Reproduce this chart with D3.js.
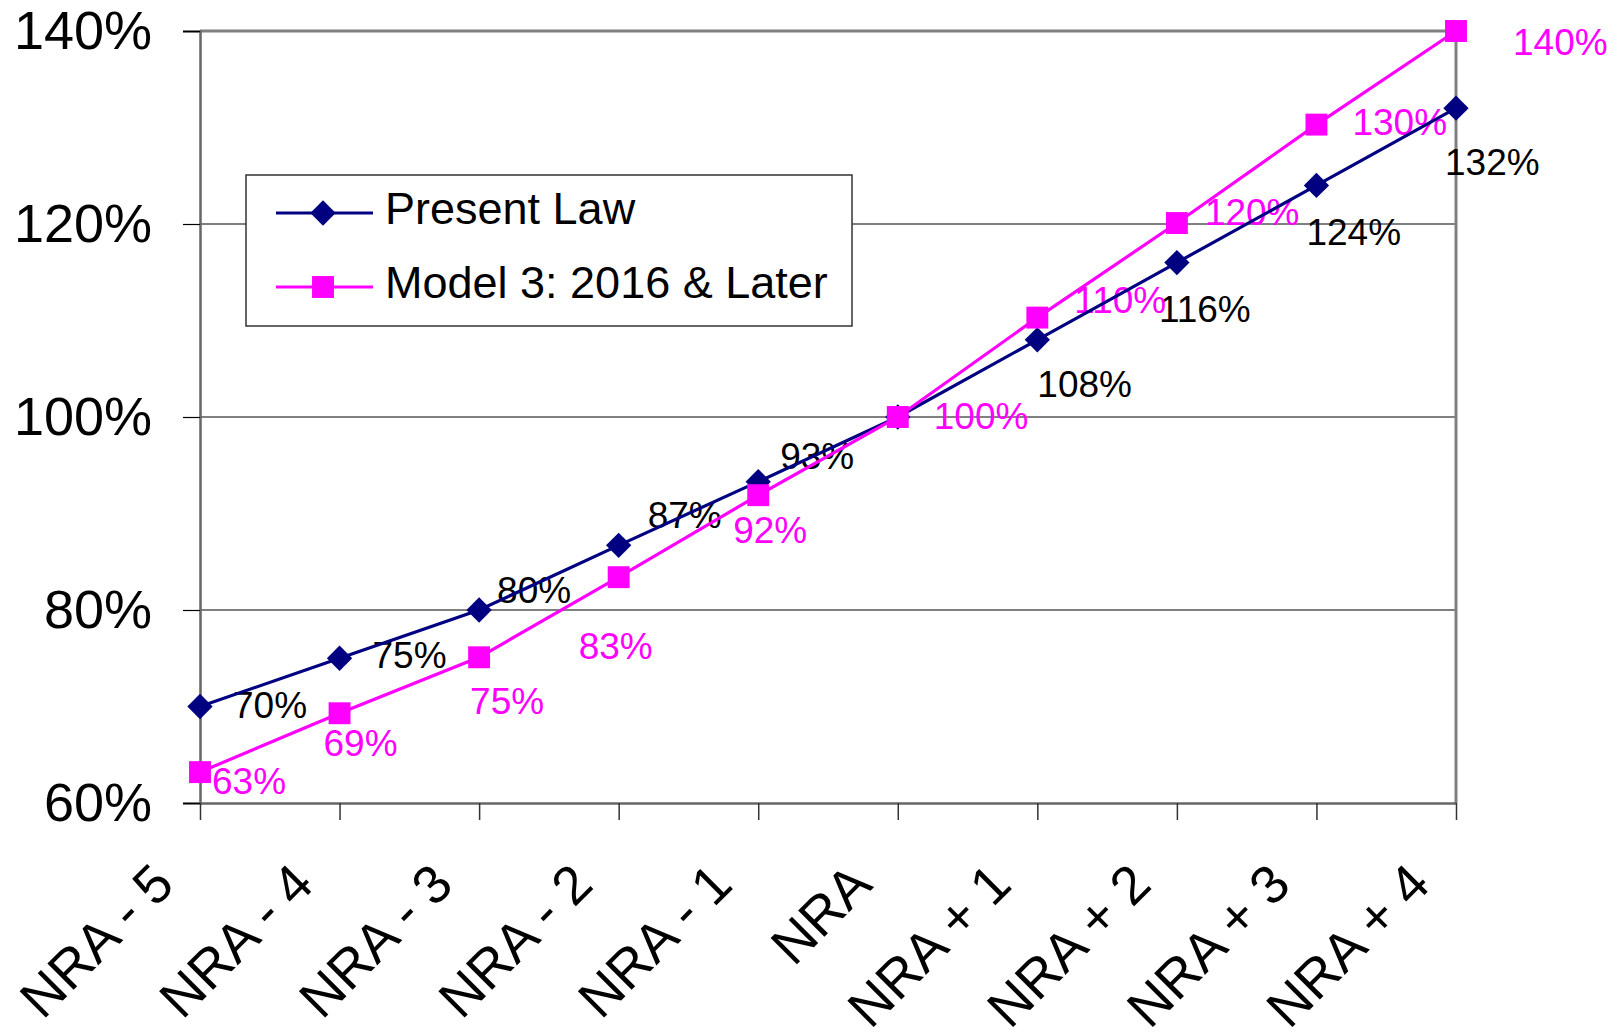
<!DOCTYPE html>
<html>
<head>
<meta charset="utf-8">
<script src="https://cdn.jsdelivr.net/npm/d3@7"></script>
<style>
  body { margin: 0; background: #fff; }
  svg { display: block; font-family: "Liberation Sans", Arial, sans-serif; }
</style>
</head>
<body>
<div id="chart"></div>
<script>
// --- DATA ---
const categories = ["NRA - 5", "NRA - 4", "NRA - 3", "NRA - 2", "NRA - 1", "NRA", "NRA + 1", "NRA + 2", "NRA + 3", "NRA + 4"];
const presentLaw = [70, 75, 80, 86.7, 93.3, 100, 108, 116, 124, 132];
const model3 = [63.2, 69.3, 75.1, 83.4, 91.9, 100, 110.3, 120.1, 130.3, 140];
const yTicks = [60, 80, 100, 120, 140];
const seriesNames = ["Present Law", "Model 3: 2016 & Later"];

// label nudges (layout only, px from the point) - Excel placed them by hand
const presentLabelOffsets = [[33, 11], [33, 10], [18, -7], [29, -17], [22, -13], null, [0, 57], [-18, 59], [-10, 60], [-11, 67]];
const modelLabelOffsets = [[12, 22], [-16, 43], [-9, 57], [-40, 82], [-25, 48], [36, 12], [37, -5], [28, 2], [36, 10], [57, 24]];

// --- SETUP ---
const W = 1619, H = 1034;
const plot = { left: 200, right: 1456, top: 31, bottom: 803 };
const navy = "#000080", pink = "#ff00ff";

const svg = d3.select("#chart").append("svg").attr("width", W).attr("height", H);

const x = d3.scalePoint().domain(categories).range([plot.left, plot.right]);
const y = d3.scaleLinear().domain([60, 140]).range([plot.bottom, plot.top]);

// Gridlines
svg.append("g")
    .selectAll("line")
    .data([80, 100, 120])
    .enter().append("line")
    .attr("x1", plot.left).attr("x2", plot.right)
    .attr("y1", d => y(d)).attr("y2", d => y(d))
    .attr("stroke", "#000").attr("stroke-width", 1);

// Top / right frame
svg.append("path")
    .attr("d", `M${plot.left},${plot.top}H${plot.right}V${plot.bottom}`)
    .attr("fill", "none").attr("stroke", "#808080").attr("stroke-width", 3);

// Y axis
const yAxis = svg.append("g").attr("transform", `translate(${plot.left},0)`)
    .call(d3.axisLeft(y).tickValues(yTicks).tickSize(17).tickPadding(31).tickFormat(d => d + "%"));
yAxis.select(".domain").attr("stroke", "#666").attr("stroke-width", 2.5);
yAxis.selectAll(".tick line").attr("stroke", "#000").attr("stroke-width", 1.2);
yAxis.selectAll("text").attr("font-size", 54).attr("fill", "#000")
    .attr("font-family", "Liberation Sans, Arial, sans-serif");

// X axis
const xAxis = svg.append("g").attr("transform", `translate(0,${plot.bottom})`)
    .call(d3.axisBottom(x).tickSize(17).tickSizeOuter(0));
xAxis.select(".domain").attr("stroke", "#666").attr("stroke-width", 2.5);
xAxis.selectAll(".tick line").attr("stroke", "#333").attr("stroke-width", 1.5);
xAxis.selectAll("text")
    .attr("font-size", 54).attr("fill", "#000")
    .attr("font-family", "Liberation Sans, Arial, sans-serif")
    .attr("x", 0).attr("y", 0).attr("dy", 0)
    .attr("text-anchor", "end")
    .attr("transform", "translate(-24,84) rotate(-45)");

// Data labels
function drawLabels(values, offsets, color) {
    svg.append("g").selectAll("text")
        .data(values.map((v, i) => ({ v, c: categories[i], o: offsets[i] })).filter(d => d.o))
        .enter().append("text")
        .attr("x", d => x(d.c) + d.o[0])
        .attr("y", d => y(d.v) + d.o[1])
        .attr("font-size", 37)
        .attr("fill", color)
        .text(d => Math.round(d.v) + "%");
}
drawLabels(presentLaw, presentLabelOffsets, "#000");
drawLabels(model3, modelLabelOffsets, pink);

// Lines
const line = d3.line().x((d, i) => x(categories[i])).y(d => y(d));
svg.append("path").datum(presentLaw).attr("d", line)
    .attr("fill", "none").attr("stroke", navy).attr("stroke-width", 3.2);
svg.append("path").datum(model3).attr("d", line)
    .attr("fill", "none").attr("stroke", pink).attr("stroke-width", 3.2);

// Markers
const diamond = d3.symbol().type(d3.symbolSquare).size(320);
const square = d3.symbol().type(d3.symbolSquare).size(480);

svg.append("g").selectAll("path")
    .data(presentLaw).enter().append("path")
    .attr("d", diamond)
    .attr("transform", (d, i) => `translate(${x(categories[i])},${y(d)}) rotate(45)`)
    .attr("fill", navy);

svg.append("g").selectAll("path")
    .data(model3).enter().append("path")
    .attr("d", square)
    .attr("transform", (d, i) => `translate(${x(categories[i])},${y(d)})`)
    .attr("fill", pink);

// Legend
const legend = svg.append("g");
legend.append("rect")
    .attr("x", 246).attr("y", 175).attr("width", 606).attr("height", 151)
    .attr("fill", "#fff").attr("stroke", "#333").attr("stroke-width", 1.5);

const legendItems = [
    { name: seriesNames[0], color: navy, sym: diamond, rot: 45, y: 213 },
    { name: seriesNames[1], color: pink, sym: square, rot: 0, y: 287 }
];
legendItems.forEach(item => {
    legend.append("line")
        .attr("x1", 276).attr("x2", 373).attr("y1", item.y).attr("y2", item.y)
        .attr("stroke", item.color).attr("stroke-width", 3.2);
    legend.append("path").attr("d", item.sym)
        .attr("transform", `translate(323,${item.y}) rotate(${item.rot})`)
        .attr("fill", item.color);
    legend.append("text")
        .attr("x", 385).attr("y", item.y + 11)
        .attr("font-size", 45).attr("fill", "#000")
        .text(item.name);
});
</script>
</body>
</html>
